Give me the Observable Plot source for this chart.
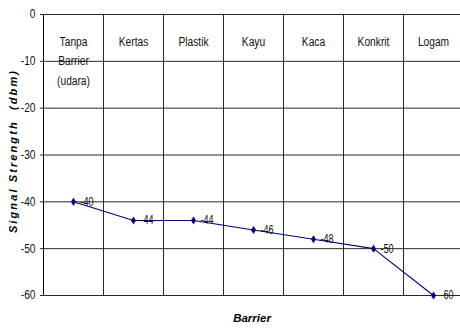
<!DOCTYPE html>
<html>
<head>
<meta charset="utf-8">
<script src="https://cdn.jsdelivr.net/npm/d3@7"></script>
<script src="https://cdn.jsdelivr.net/npm/@observablehq/plot@0.6"></script>
<style>
  html, body { margin: 0; padding: 0; background: #fff; }
  svg { display: block; }
  .ytitle text { letter-spacing: 2.1px; }
</style>
</head>
<body>
<div id="chart"></div>
<script>
// Signal strength measured through different barrier materials
const categories = ["Tanpa\nBarrier\n(udara)", "Kertas", "Plastik", "Kayu", "Kaca", "Konkrit", "Logam"];
const signal = [-40, -44, -44, -46, -48, -50, -60];
const yTicks = [0, -10, -20, -30, -40, -50, -60];
const yTitle = "Signal Strength  (dbm)";
const xTitle = "Barrier";

// each category occupies one unit-wide column; points sit in the column centre
const points = categories.map((c, i) => ({cat: c, pos: i + 0.5, value: signal[i]}));
const separators = categories.slice(1).map((c, i) => i + 1);

// narrow diamond marker
const tallDiamond = {
  draw(context, size) {
    const r = Math.sqrt(size / Math.PI);
    const h = r * 1.35, w = r * 0.85;
    context.moveTo(0, -h);
    context.lineTo(w, 0);
    context.lineTo(0, h);
    context.lineTo(-w, 0);
    context.closePath();
  }
};

const font = "'Liberation Sans', Arial, sans-serif";

const chart = Plot.plot({
  width: 460,
  height: 333,
  marginLeft: 43,
  marginTop: 14,
  marginBottom: 38,
  marginRight: 0,
  style: {fontFamily: font, fontSize: "12px", background: "white", color: "#000"},
  x: {domain: [0, categories.length], range: [43, 463], axis: null},
  y: {domain: [-60, 0]},
  marks: [
    // horizontal gridlines, starting at the tick marks
    Plot.ruleY(yTicks, {x1: -0.05, x2: categories.length, stroke: "#111", strokeWidth: 1, strokeOpacity: 0.9}),
    // column separators
    Plot.ruleX(separators, {y1: -60, y2: 0, stroke: "#111", strokeWidth: 1, strokeOpacity: 0.9}),
    // y axis line
    Plot.ruleX([0], {y1: -60, y2: 0, stroke: "#000", strokeWidth: 1}),
    Plot.axisY({
      ticks: yTicks,
      tickFormat: d => String(d),
      tickSize: 0,
      tickPadding: 8,
      label: null,
      fontSize: 12,
      fill: "#111"
    }),
    // category names in the top row
    Plot.text(points, {
      x: "pos",
      text: "cat",
      frameAnchor: "top",
      dy: 17,
      lineAnchor: "top",
      lineHeight: 1.65,
      fontSize: 12,
      fill: "#111",
      className: "narrow-cat"
    }),
    Plot.line(points, {x: "pos", y: "value", stroke: "#000080", strokeWidth: 1.1}),
    Plot.dot(points, {x: "pos", y: "value", symbol: tallDiamond, r: 3, fill: "#000080", stroke: null}),
    Plot.text(points, {
      x: "pos",
      y: "value",
      text: d => String(d.value),
      textAnchor: "start",
      dx: 7,
      fontSize: 12,
      fill: "#111",
      className: "narrow-val"
    }),
    // axis titles
    Plot.text([yTitle], {
      frameAnchor: "left",
      textAnchor: "middle",
      dx: -30,
      dy: -4,
      rotate: -90,
      fontWeight: "bold",
      fontStyle: "italic",
      fontSize: 11,
      fill: "#000",
      className: "ytitle"
    }),
    Plot.text([xTitle], {
      frameAnchor: "bottom",
      dy: 26,
      fontWeight: "bold",
      fontStyle: "italic",
      fontSize: 11.5,
      fill: "#000"
    })
  ]
});

document.getElementById("chart").appendChild(chart);

// condense the body labels to a narrow face
function condense(selection, factor) {
  selection.each(function () {
    const spans = this.querySelectorAll("tspan");
    const targets = spans.length ? Array.from(spans) : [this];
    for (const t of targets) {
      const w = t.getComputedTextLength();
      if (w > 0) {
        t.setAttribute("textLength", (w * factor).toFixed(2));
        t.setAttribute("lengthAdjust", "spacingAndGlyphs");
      }
    }
  });
}
condense(d3.select(chart).selectAll("g.narrow-cat text"), 0.85);
condense(d3.select(chart).selectAll("g.narrow-val text"), 0.76);
condense(d3.select(chart).selectAll("g[aria-label='y-axis tick label'] text"), 0.85);
</script>
</body>
</html>
